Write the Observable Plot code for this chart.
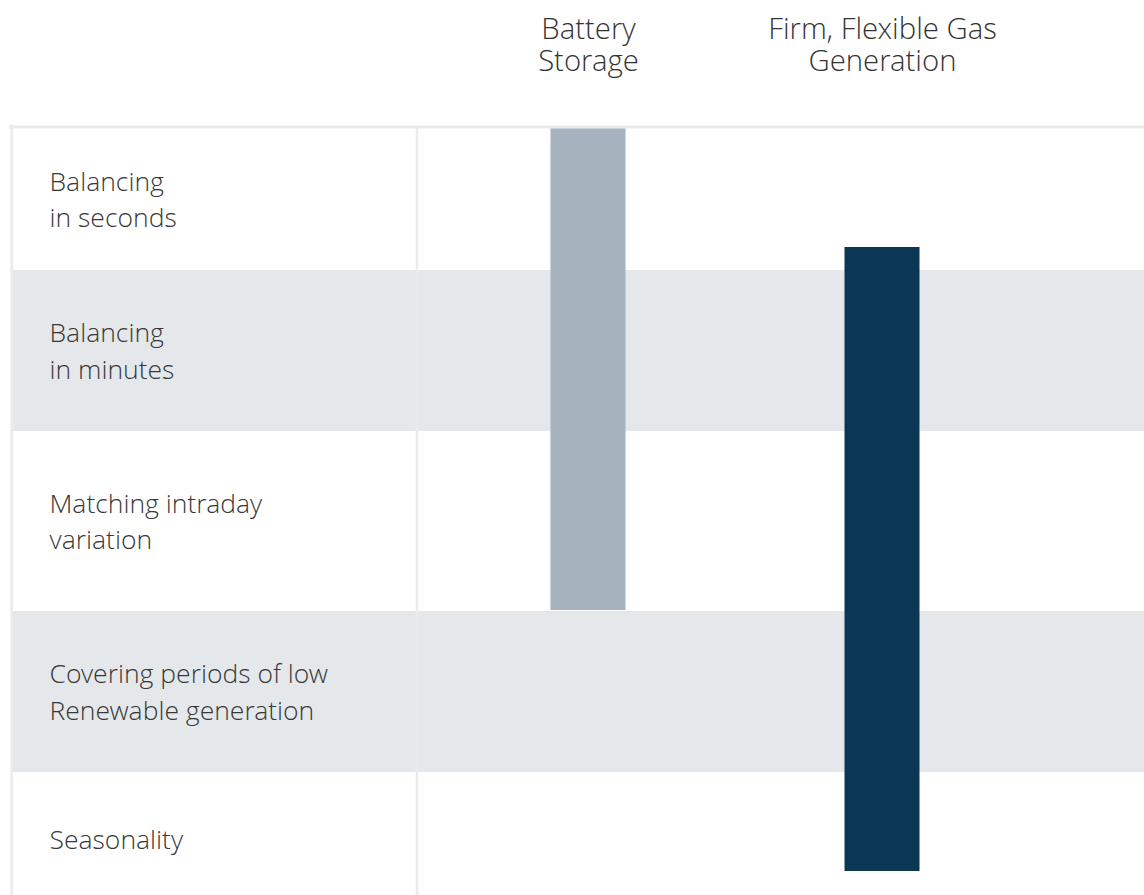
<!DOCTYPE html>
<html>
<head>
<meta charset="utf-8">
<script src="https://cdn.jsdelivr.net/npm/d3@7"></script>
<script src="https://cdn.jsdelivr.net/npm/@observablehq/plot@0.6"></script>
<style>
  html, body { margin: 0; padding: 0; background: #fff; }
  #chart svg { display: block; }
</style>
</head>
<body>
<div id="chart"></div>
<script>
// Row categories (time scales of flexibility needs)
const rows = [
  "Balancing\nin seconds",
  "Balancing\nin minutes",
  "Matching intraday\nvariation",
  "Covering periods of low\nRenewable generation",
  "Seasonality"
];
// Extent of each row on the vertical time-scale axis (row units)
const rowStart = [0, 1.42, 3.03, 4.83, 6.44];
const rowEnd   = [1.42, 3.03, 4.83, 6.44, 7.78];

// Technologies (columns)
const technologies = ["Battery Storage", "Firm, Flexible Gas Generation"];
const headerLabels = ["Battery\nStorage", "Firm, Flexible Gas\nGeneration"];
// Span of needs covered by each technology (row units)
const spanStart = [0, 1.19];
const spanEnd   = [4.82, 7.43];
const techColors = ["#a6b3be", "#0b3654"];

const rowData = rows.map((label, i) => ({
  label, y1: rowStart[i], y2: rowEnd[i], mid: (rowStart[i] + rowEnd[i]) / 2, shaded: i % 2 === 1
}));
const spanData = technologies.map((tech, i) => ({
  tech, y1: spanStart[i], y2: spanEnd[i], color: techColors[i]
}));
const headerMap = new Map(technologies.map((t, i) => [t, headerLabels[i]]));

const font = "'Open Sans Light', 'Open Sans', 'Noto Sans', sans-serif";
const lineColor = "#ebebeb";

const chart = Plot.plot({
  width: 1144,
  height: 895,
  marginTop: 128,
  marginBottom: 0,
  marginLeft: 0,
  marginRight: 0,
  style: { fontFamily: font, background: "#fff", color: "#333" },
  x: { type: "band", domain: technologies, range: [440.5, 1028.5], padding: 0 },
  y: { domain: [0, 7.67], reverse: true, axis: null },
  marks: [
    // alternating row bands
    Plot.rectY(rowData.filter(d => d.shaded), {
      y1: "y1", y2: "y2", fill: "#e4e8eb", insetLeft: 12
    }),
    // technology spans
    Plot.barY(spanData, {
      x: "tech", y1: "y1", y2: "y2", fill: "color", insetLeft: 109.5, insetRight: 109.5
    }),
    // table borders
    Plot.frame({ anchor: "left", stroke: lineColor, strokeWidth: 2.5, dx: 11.2, dy: -3, insetBottom: -10 }),
    Plot.frame({ anchor: "left", stroke: lineColor, strokeWidth: 2.5, dx: 416.5, insetBottom: -10 }),
    Plot.frame({ anchor: "top", stroke: lineColor, strokeWidth: 3, dy: -1.5, insetLeft: 10 }),
    // row labels
    Plot.text(rowData, {
      y: "mid", text: "label", frameAnchor: "left", dx: 49, dy: -2,
      textAnchor: "start", lineAnchor: "middle", lineHeight: 1.38,
      fontSize: 26.5, fontWeight: 300, fill: "#383838"
    }),
    // column headers
    Plot.axisX({
      anchor: "top", tickSize: 0, tickPadding: 58, label: null,
      tickFormat: d => headerMap.get(d), fontSize: 29.3, lineHeight: 1.06,
      fill: "#333", fontWeight: 300
    })
  ]
});
document.getElementById("chart").appendChild(chart);
</script>
</body>
</html>
